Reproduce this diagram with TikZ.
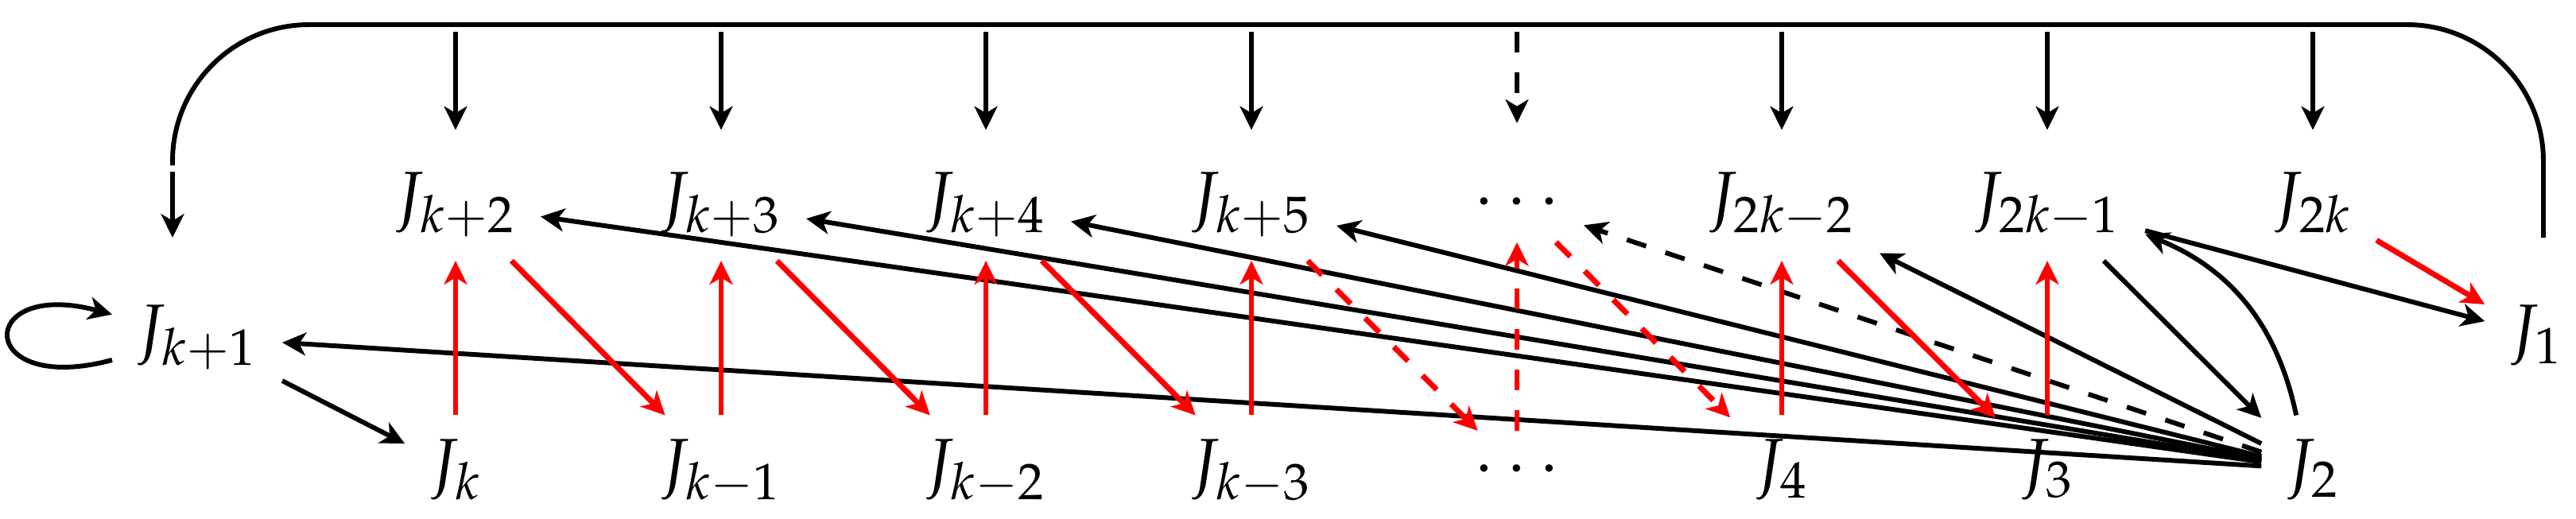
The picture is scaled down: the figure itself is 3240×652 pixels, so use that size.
\documentclass[tikz,border=0pt]{standalone}
\usepackage{mathpazo}
\usetikzlibrary{arrows.meta}
\begin{document}
\begin{tikzpicture}[x=0.11765pt,y=-0.11765pt,
  nd/.style={inner sep=3.3pt},
  ar/.style={-{Stealth[length=3.5pt,width=3.4pt,inset=1pt]}, line width=0.7pt},
  rd/.style={ar, red, line width=0.82pt},
  dn/.style={ar, shorten >=2.7pt},
  bk/.style={line width=0.7pt}]
\useasboundingbox (0,0) rectangle (3240,652);
% nodes
\node[nd,anchor=base] (Jk1) at (248,442) {$J_{k+1}$};
\node[nd,anchor=base] (J1) at (3190,442) {$J_1$};
\node[nd,anchor=base] (T1) at (573,275) {$J_{k+2}$};
\node[nd,anchor=base] (T2) at (907,275) {$J_{k+3}$};
\node[nd,anchor=base] (T3) at (1240,275) {$J_{k+4}$};
\node[nd,anchor=base] (T4) at (1574,275) {$J_{k+5}$};
\node[nd,anchor=base] (T5) at (1908,275) {$\cdots$};
\node[nd,anchor=base] (T6) at (2241,275) {$J_{2k-2}$};
\node[nd,anchor=base] (T7) at (2575,275) {$J_{2k-1}$};
\node[nd,anchor=base] (T8) at (2909,275) {$J_{2k}$};
\node[nd,anchor=base] (B1) at (573,611) {$J_{k}$};
\node[nd,anchor=base] (B2) at (907,611) {$J_{k-1}$};
\node[nd,anchor=base] (B3) at (1240,611) {$J_{k-2}$};
\node[nd,anchor=base] (B4) at (1574,611) {$J_{k-3}$};
\node[nd,anchor=base] (B5) at (1908,611) {$\cdots$};
\node[nd,anchor=base] (B6) at (2241,611) {$J_{4}$};
\node[nd,anchor=base] (B7) at (2575,611) {$J_{3}$};
\node[nd,anchor=base] (B8) at (2909,611) {$J_{2}$};
% big return path
\coordinate (aR) at (3199,299);
\coordinate (tr) at (3199,31);
\coordinate (tl) at (217,31);
\coordinate (cL) at (217,208);
\coordinate (aLs) at (217,216);
\coordinate (aLe) at (217,299);
\draw[bk, rounded corners=20.2pt] (aR) -- (tr) -- (tl) -- (cL);
\draw[ar] (aLs) -- (aLe);
\foreach \i/\x in {1/573,2/907,3/1240,4/1574,5/1908,6/2241,7/2575,8/2909}
  \coordinate (d\i) at (\x,40);
\foreach \i in {1,2,3,4,6,7,8}
  \draw[dn] (d\i) -- (T\i);
\draw[ar, dashed, shorten >=6pt] (d5) -- (T5);
% black edges
\draw[ar] (Jk1) to[loop left] (Jk1);
\draw[ar] (Jk1) -- (B1);
\foreach \t in {Jk1,T1,T2,T3,T4,T6}
  \draw[ar] (B8) -- (\t);
\draw[ar, dashed] (B8) -- (T5);
\draw[ar] (B8) to[bend right=28] (T7);
\draw[ar] (T7) -- (B8);
\draw[ar] (T7) -- (J1);
% red edges
\draw[rd] (B1) -- (T1);
\draw[rd] (T1) -- (B2);
\draw[rd] (B2) -- (T2);
\draw[rd] (T2) -- (B3);
\draw[rd] (B3) -- (T3);
\draw[rd] (T3) -- (B4);
\draw[rd] (B4) -- (T4);
\draw[rd, dashed] (T4) -- (B5);
\draw[rd, dashed] (B5) -- (T5);
\draw[rd, dashed] (T5) -- (B6);
\draw[rd] (B6) -- (T6);
\draw[rd] (T6) -- (B7);
\draw[rd] (B7) -- (T7);
\draw[rd] (T8) -- (J1);
\end{tikzpicture}
\end{document}
